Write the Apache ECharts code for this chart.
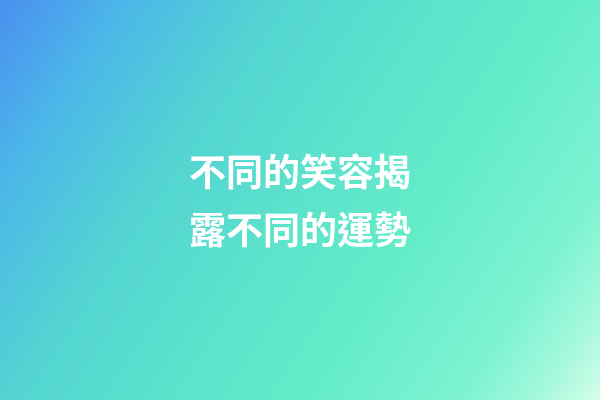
<!DOCTYPE html>
<html lang="zh-Hant">
<head>
    <meta charset="UTF-8">
    <title>不同的笑容揭露不同的運勢</title>
    <script src="https://cdn.jsdelivr.net/npm/echarts@6/dist/echarts.min.js"></script>
    <style>
        html, body { margin: 0; padding: 0; }
        #main { width: 600px; height: 400px; }
    </style>
</head>
<body>
<div id="main"></div>
<script>
    // 標題文字，每行一筆
    var titleLines = ['不同的笑容揭', '露不同的運勢'];
    // 背景漸層（沿左上→右下對角線）
    var gradientStops = [0, 0.15, 0.32, 0.5, 0.66, 0.84, 0.93, 1];
    var gradientColors = ['#4a8ff0', '#4bb8e8', '#53d4d2', '#5de2cc', '#64ecc8', '#7ef3d2', '#a6f8dd', '#d4fee9'];

    var chart = echarts.init(document.getElementById('main'));

    var colorStops = gradientStops.map(function (s, i) {
        return { offset: s, color: gradientColors[i] };
    });

    var elements = [{
        type: 'rect',
        left: 0,
        top: 0,
        z: 0,
        shape: { width: 600, height: 400 },
        style: {
            fill: new echarts.graphic.LinearGradient(0, 0, 1, 1, colorStops)
        }
    }];

    titleLines.forEach(function (line, i) {
        elements.push({
            type: 'text',
            x: 300,
            y: 172 + i * 58,
            z: 10,
            style: {
                text: line,
                fill: '#ffffff',
                font: 'bold 37px "Noto Sans CJK TC"',
                align: 'center',
                verticalAlign: 'middle'
            }
        });
    });

    chart.setOption({
        animation: false,
        graphic: { elements: elements }
    });
</script>
</body>
</html>
